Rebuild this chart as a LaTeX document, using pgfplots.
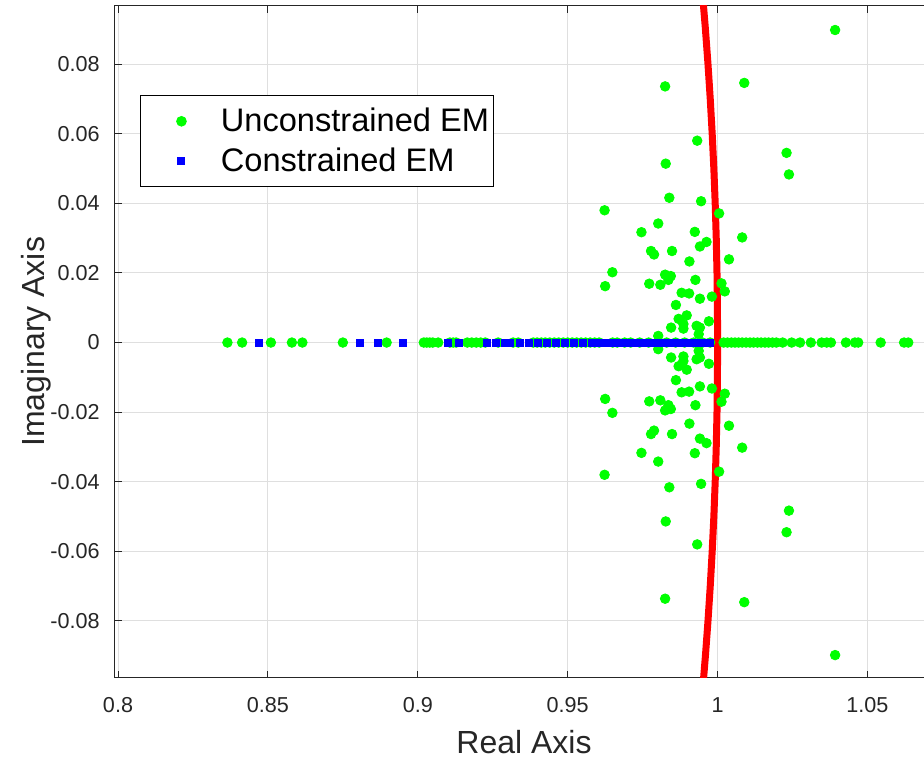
\documentclass[border=0pt]{standalone}
\usepackage{fontspec}
\setmainfont{Liberation Sans}
\usepackage{pgfplots}
\pgfplotsset{compat=1.18}
\usepackage{pgfplotstable}
\definecolor{axc}{RGB}{38,38,38}
\definecolor{gridc}{RGB}{223,223,223}
\definecolor{mgreen}{RGB}{0,255,0}
\definecolor{mblue}{RGB}{0,0,255}

\pgfplotstableread{
re im
0.8365 0
0.8414 0
0.8510 0
0.8580 0
0.8615 0
0.8750 0
0.8896 0
0.9020 0
0.9030 0
0.9040 0
0.9050 0
0.9068 0
0.9107 0
0.9118 0
0.9128 0
0.9165 0
0.9180 0
0.9195 0
0.9210 0
0.9225 0
0.9268 0
0.9318 0
0.9335 0
0.9385 0
0.9398 0
0.9412 0
0.9425 0
0.9440 0
0.9455 0
0.9470 0
0.9485 0
0.9500 0
0.9515 0
0.9530 0
0.9545 0
0.9560 0
0.9575 0
0.9590 0
0.9605 0
0.9650 0
0.9665 0
0.9690 0
0.9710 0
0.9740 0
0.9770 0
0.9800 0
0.9830 0
0.9860 0
0.9890 0
0.9920 0
0.9950 0
0.9975 0
1.0020 0
1.0033 0
1.0046 0
1.0058 0
1.0070 0
1.0082 0
1.0095 0
1.0108 0
1.0120 0
1.0133 0
1.0145 0
1.0158 0
1.0170 0
1.0183 0
1.0196 0
1.0217 0
1.0247 0
1.0275 0
1.0311 0
1.0347 0
1.0364 0
1.0378 0
1.0428 0
1.0458 0
1.0469 0
1.0544 0
1.0622 0
1.0636 0
0.9825 0.0736
0.9825 -0.0736
1.0089 0.0746
1.0089 -0.0746
0.9932 0.0580
0.9932 -0.0580
0.9827 0.0514
0.9827 -0.0514
1.0392 0.0898
1.0392 -0.0898
1.0230 0.0545
1.0230 -0.0545
1.0238 0.0483
1.0238 -0.0483
0.9839 0.0416
0.9839 -0.0416
0.9945 0.0406
0.9945 -0.0406
0.9623 0.0380
0.9623 -0.0380
1.0005 0.0371
1.0005 -0.0371
0.9802 0.0342
0.9802 -0.0342
0.9746 0.0317
0.9746 -0.0317
0.9924 0.0318
0.9924 -0.0318
1.0082 0.0302
1.0082 -0.0302
0.9963 0.0289
0.9963 -0.0289
0.9941 0.0276
0.9941 -0.0276
0.9778 0.0263
0.9778 -0.0263
0.9788 0.0253
0.9788 -0.0253
0.9848 0.0263
0.9848 -0.0263
1.0038 0.0239
1.0038 -0.0239
0.9906 0.0233
0.9906 -0.0233
0.9649 0.0202
0.9649 -0.0202
0.9625 0.0162
0.9625 -0.0162
0.9825 0.0195
0.9825 -0.0195
0.9844 0.0191
0.9844 -0.0191
0.9836 0.0180
0.9836 -0.0180
0.9772 0.0169
0.9772 -0.0169
0.9809 0.0166
0.9809 -0.0166
0.9926 0.0180
0.9926 -0.0180
1.0013 0.0170
1.0013 -0.0170
1.0024 0.0147
1.0024 -0.0147
0.9880 0.0143
0.9880 -0.0143
0.9905 0.0141
0.9905 -0.0141
0.9941 0.0126
0.9941 -0.0126
0.9981 0.0132
0.9981 -0.0132
0.9861 0.0108
0.9861 -0.0108
0.9870 0.0068
0.9870 -0.0068
0.9897 0.0078
0.9897 -0.0078
0.9845 0.0043
0.9845 -0.0043
0.9886 0.0053
0.9886 -0.0053
0.9886 0.0040
0.9886 -0.0040
0.9930 0.0048
0.9930 -0.0048
0.9941 0.0043
0.9941 -0.0043
0.9971 0.0061
0.9971 -0.0061
0.9802 0.0019
0.9802 -0.0019
0.9937 0.0024
0.9937 -0.0024
}\greentab

\pgfplotstableread{
re im
0.8471 0
0.8806 0
0.8866 0
0.8950 0
0.9100 0
0.9138 0
0.9230 0
0.9262 0
0.9290 0
0.9307 0
0.9340 0
0.9369 0
0.9400 0
0.9430 0
0.9460 0
0.9490 0
0.9520 0
0.9550 0
0.9580 0
0.9608 0
0.9624 0
0.9645 0
0.9658 0
0.9680 0
0.9700 0
0.9720 0
0.9740 0
0.9760 0
0.9778 0
0.9795 0
0.9810 0
0.9825 0
0.9840 0
0.9855 0
0.9870 0
0.9885 0
0.9900 0
0.9912 0
0.9924 0
0.9936 0
0.9948 0
0.9960 0
0.9975 0
}\bluetab

\pgfplotstableread{
re im
0.994987 -0.10
0.995942 -0.09
0.996795 -0.08
0.997547 -0.07
0.998198 -0.06
0.998749 -0.05
0.999200 -0.04
0.999550 -0.03
0.999800 -0.02
0.999950 -0.01
1.000000 0.00
0.999950 0.01
0.999800 0.02
0.999550 0.03
0.999200 0.04
0.998749 0.05
0.998198 0.06
0.997547 0.07
0.996795 0.08
0.995942 0.09
0.994987 0.10
}\circtab

\begin{document}
\begin{tikzpicture}
\begin{axis}[
  scale only axis,
  width=409.5bp, height=335.85bp,
  xmin=0.79883, xmax=1.07202, ymin=-0.0963, ymax=0.0967,
  xtick={0.8,0.85,0.9,0.95,1,1.05},
  xticklabels={0.8,0.85,0.9,0.95,1,1.05},
  ytick={-0.08,-0.06,-0.04,-0.02,0,0.02,0.04,0.06,0.08},
  yticklabels={-0.08,-0.06,-0.04,-0.02,0,0.02,0.04,0.06,0.08},
  grid=major,
  major grid style={gridc, line width=0.5bp},
  axis line style={axc, line width=0.5bp},
  tick style={axc, line width=0.5bp},
  major tick length=3.5bp,
  tick align=inside,
  xticklabel style={font=\fontsize{10.8bp}{13bp}\selectfont, text=axc, anchor=center, yshift=-13.5bp},
  yticklabel style={font=\fontsize{10.8bp}{13bp}\selectfont, text=axc, anchor=east, inner sep=0pt, xshift=-7.25bp},
  xlabel={Real Axis},
  ylabel={Imaginary Axis},
  xlabel style={font=\fontsize{16bp}{19bp}\selectfont, text=axc, at={(axis description cs:0.5,0)}, anchor=center, yshift=-32.15bp},
  ylabel style={font=\fontsize{16bp}{19bp}\selectfont, text=axc, at={(axis description cs:-0.0960,0.5)}, anchor=center},
  legend style={at={(axis description cs:0.0311,0.8675)}, anchor=north west, draw=black, line width=0.5bp,
    font=\fontsize{16.3bp}{19bp}\selectfont, inner xsep=1bp, inner ysep=4.25bp, row sep=2.5bp,
    nodes={inner xsep=1.2bp}},
  legend cell align=left,
  legend image code/.code={%
    \path[draw=none, fill=none] (0bp,-1bp) rectangle (38bp,1bp);
    \draw[mark repeat=2,mark phase=2,#1] plot coordinates {(0bp,0bp) (19.5bp,0bp) (39bp,0bp)};},
]
\addplot[only marks, mark=*, mark size=2.4bp, mark options={draw=mgreen, fill=mgreen}, color=mgreen] table[x=re, y=im] {\greentab};
\addlegendentry{Unconstrained EM}
\addplot[only marks, mark=square*, mark size=1.75bp, mark options={draw=mblue, fill=mblue}, color=mblue] table[x=re, y=im] {\bluetab};
\addlegendentry{Constrained EM}
\addplot[red, line width=3.5bp, forget plot] table[x=re, y=im] {\circtab};
\end{axis}
\pgfresetboundingbox
\path[use as bounding box] ([shift={(-57.25bp,-40.65bp)}]current axis.south west) rectangle ++(462bp,379.5bp);
\end{tikzpicture}
\end{document}
